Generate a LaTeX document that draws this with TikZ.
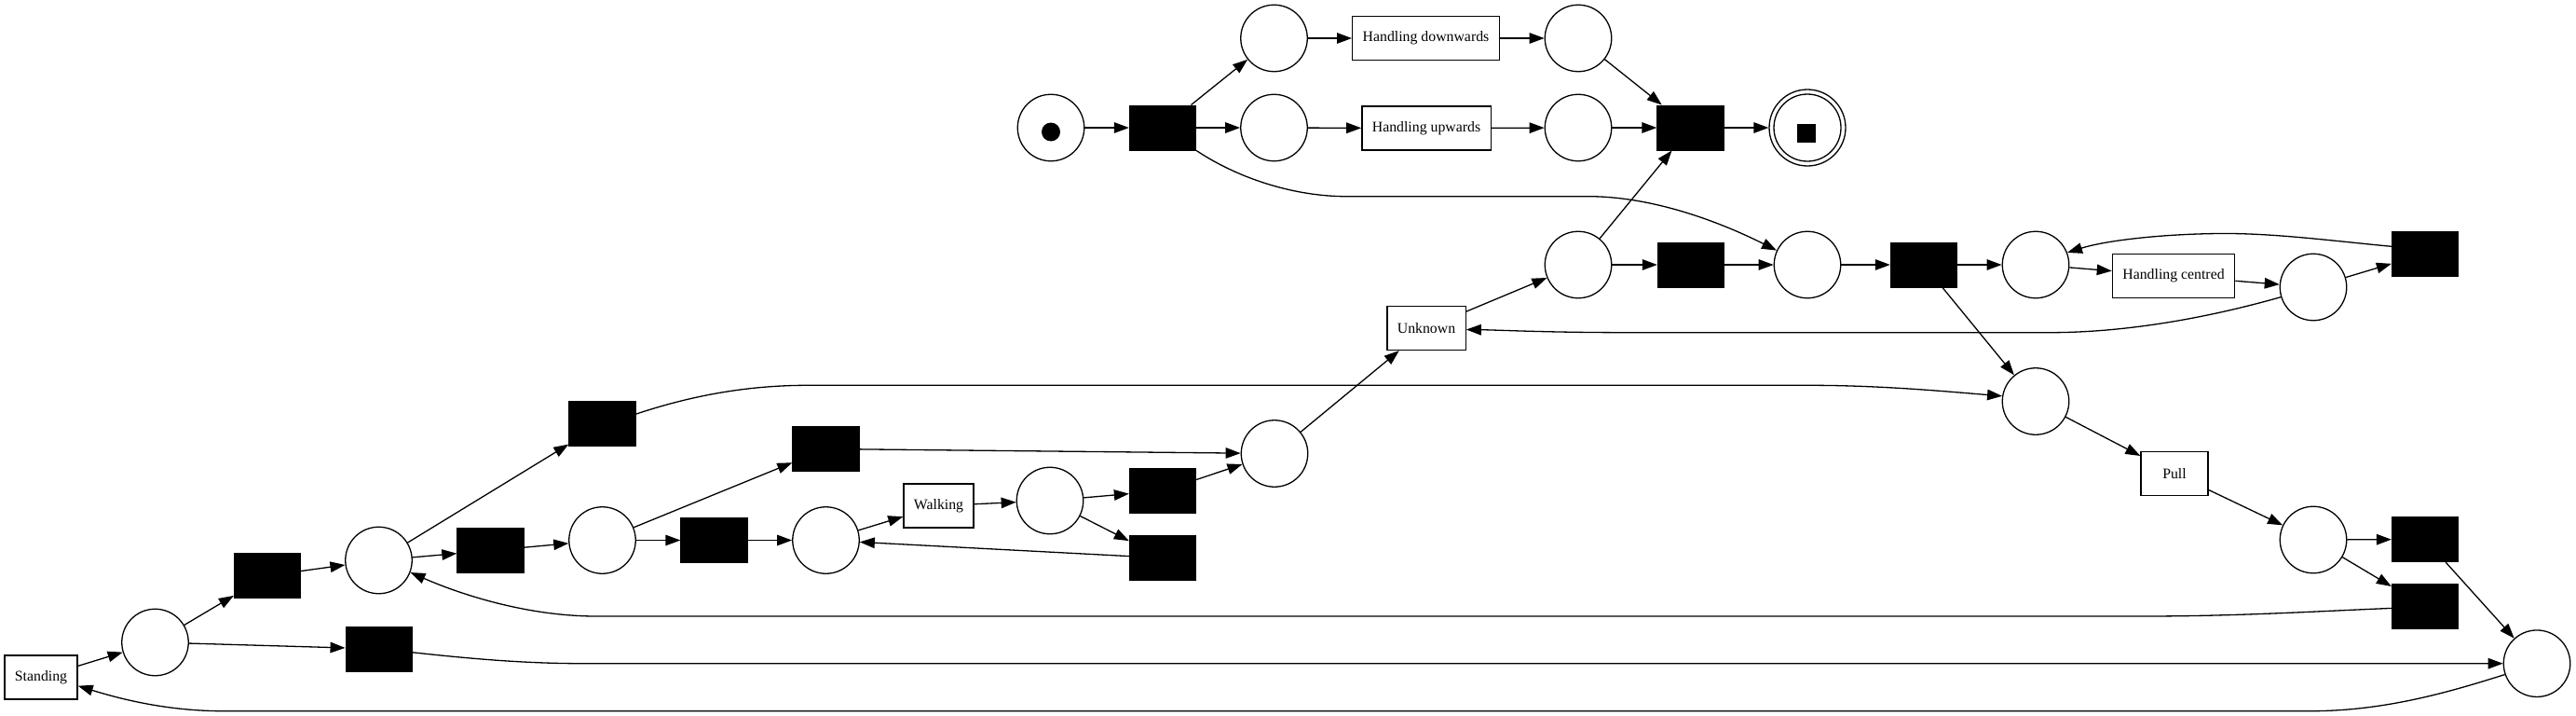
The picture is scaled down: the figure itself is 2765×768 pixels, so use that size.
\documentclass[tikz,border=0pt]{standalone}
\usepackage{fontspec}
\setmainfont{Liberation Serif}
\usetikzlibrary{arrows.meta}
\begin{document}
\begin{tikzpicture}[x=1pt,y=-1pt,line width=1.3pt,
  place/.style={circle,draw,minimum size=71.5pt,inner sep=0pt},
  trans/.style={rectangle,draw,fill=black,minimum width=71pt,minimum height=47.7pt,inner sep=0pt},
  tbox/.style={rectangle,draw,minimum width=72pt,minimum height=47pt,inner xsep=11pt,inner ysep=0pt,font=\fontsize{15.8}{19}\selectfont},
  arc/.style={-{Triangle[length=16pt,width=11.5pt]}}]
\useasboundingbox (0,0) rectangle (2765,768);
% top part
\node[place] (pS) at (1128,137) {};
\node[circle,fill,minimum size=20pt,inner sep=0pt] (tokS) at (1128,141.5) {};
\node[trans] (tSplit) at (1248,137) {};
\node[place] (pDin) at (1367.5,41) {};
\node[tbox] (HD) at (1530.5,41) {Handling downwards};
\node[place] (pDout) at (1694,41) {};
\node[place] (pUin) at (1367.5,137) {};
\node[tbox] (HU) at (1531,137.5) {Handling upwards};
\node[place] (pUout) at (1694,137) {};
\node[trans] (tJoin) at (1814.5,137) {};
\node[circle,draw,minimum size=82pt,inner sep=0pt] (pEnd) at (1940,137) {};
\node[circle,draw,minimum size=72pt,inner sep=0pt] (pEndIn) at (1940,137) {};
\node[rectangle,fill,minimum size=20pt,inner sep=0pt] (tokE) at (1939,143) {};
% middle row
\node[place] (pA) at (1694,284) {};
\node[trans] (tB) at (1815,284) {};
\node[place] (pC) at (1940,284) {};
\node[trans] (tD) at (2065,284) {};
\node[place] (pE) at (2185,284) {};
\node[tbox] (HC) at (2333,296) {Handling centred};
\node[place] (pF) at (2483,308) {};
\node[trans] (tG) at (2603,272) {};
\node[tbox] (Unknown) at (1531,352) {Unknown};
% right lower
\node[place] (pH) at (2185,430.5) {};
\node[tbox] (Pull) at (2334,508) {Pull};
\node[place] (p7) at (2483,579) {};
\node[trans] (t9) at (2603,578.5) {};
\node[trans] (t10) at (2603,650.5) {};
\node[place] (pLast) at (2723,711.7) {};
% left part
\node[tbox] (Standing) at (44,726.5) {Standing};
\node[place] (p1) at (166.5,689) {};
\node[trans] (t1) at (287,617.5) {};
\node[trans] (t2) at (406.7,696) {};
\node[place] (p2) at (406.5,601) {};
\node[trans] (t3) at (646.5,454.5) {};
\node[trans] (t4) at (526.5,590.5) {};
\node[place] (p3) at (646.5,579.5) {};
\node[trans] (t5) at (886.5,481.5) {};
\node[trans] (t6) at (766.5,579.5) {};
\node[place] (p4) at (886.5,579.5) {};
\node[tbox] (Walking) at (1007.5,542.5) {Walking};
\node[place] (p5) at (1127,537) {};
\node[trans] (t7) at (1248,526.5) {};
\node[trans] (t8) at (1248,598.5) {};
\node[place] (p6) at (1368,486.5) {};
% straight arcs
\foreach \a/\b in {pS/tSplit,tSplit/pDin,tSplit/pUin,pDin/HD,HD/pDout,pDout/tJoin,
  pUin/HU,HU/pUout,pUout/tJoin,tJoin/pEnd,pA/tJoin,pA/tB,tB/pC,pC/tD,tD/pE,tD/pH,
  pE/HC,HC/pF,pF/tG,Unknown/pA,p6/Unknown,Standing/p1,p1/t1,p1/t2,t1/p2,p2/t3,p2/t4,
  t4/p3,p3/t5,p3/t6,t6/p4,p4/Walking,Walking/p5,p5/t7,p5/t8,t8/p4,t7/p6,t5/p6,
  pH/Pull,Pull/p7,p7/t9,p7/t10,t9/pLast}
  \draw[arc] (\a) -- (\b);
% curved arcs
\draw[arc] (tSplit.south east) .. controls (1330,192) and (1390,210.7) .. (1445,210.7)
  -- (1705,210.7) .. controls (1770,210.7) and (1840,235) .. (pC.155);
\draw[arc] (t3.16) .. controls (740,425) and (800,413.3) .. (867,413.3)
  -- (1941.5,413.3) .. controls (2020,413.3) and (2090,420) .. (pH.171);
\draw[arc] (t2.-6) .. controls (500,706) and (560,711.7) .. (625,711.7) -- (pLast.west);
\draw[arc] (pLast.199) .. controls (2630,742) and (2560,762.7) .. (2480,762.7)
  -- (240,762.7) .. controls (180,762.7) and (130,750) .. (Standing.-13);
\draw[arc] (t10.183) .. controls (2480,656) and (2400,661) .. (2300,661)
  -- (640,661) .. controls (570,661) and (500,640) .. (p2.-21);
\draw[arc] (pF.197) .. controls (2380,338) and (2290,356.7) .. (2200,356.7)
  -- (1750,356.7) .. controls (1660,356.7) and (1610,354) .. (Unknown.-2);
\draw[arc] (tG.168) .. controls (2500,258) and (2440,250) .. (2383,250.5)
  .. controls (2320,251) and (2260,258) .. (pE.21);
\end{tikzpicture}
\end{document}
